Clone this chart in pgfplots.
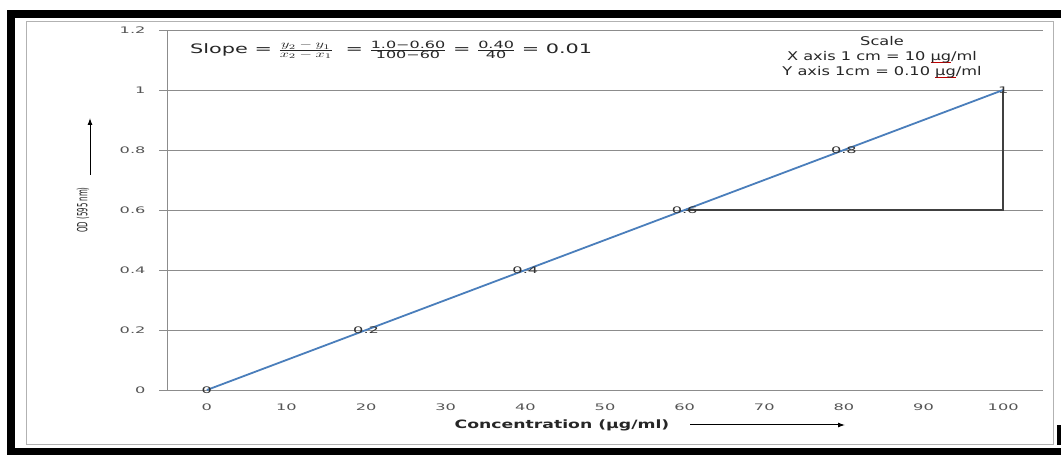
\documentclass[border=0pt]{standalone}
\usepackage{fontspec}
\setmainfont{DejaVu Sans}
\newfontfamily\tickfont[FakeStretch=1.8]{DejaVu Sans}
\newfontfamily\slopefont[FakeStretch=1.6]{DejaVu Sans}
\newfontfamily\scalefont[FakeStretch=1.35]{DejaVu Sans}
\newfontfamily\xlabfont[FakeStretch=1.5]{DejaVu Sans}
\newfontfamily\ylabfont[FakeStretch=0.5]{DejaVu Sans}
\usepackage{graphicx}
\usepackage{pgfplots}
\pgfplotsset{compat=1.18}
\usetikzlibrary{arrows.meta}
\definecolor{exblue}{RGB}{74,126,187}
\definecolor{txtgray}{RGB}{85,85,85}
\definecolor{gridgray}{RGB}{140,140,140}
\newcommand\ug{\leavevmode\setbox0\hbox{µg}\rlap{\textcolor{red!75!black}{\rule[-2.5pt]{\wd0}{0.7pt}}}\box0}
\newcommand\fr[2]{\ensuremath{\frac{\mbox{\fontsize{10}{11}\selectfont #1}}{\mbox{\fontsize{10}{11}\selectfont #2}}}}
\newcommand\mfr[2]{\ensuremath{\frac{\mbox{\scalebox{1.6}[1]{\fontsize{10}{11}\selectfont $#1$}}}{\mbox{\scalebox{1.6}[1]{\fontsize{10}{11}\selectfont $#2$}}}}}
\begin{document}
\begin{tikzpicture}[x=1pt,y=1pt]
\useasboundingbox[fill=white] (0,0) rectangle (1061,455);
\fill[black] (7,437) rectangle (1061,445);
\fill[black] (7,0) rectangle (15,445);
\fill[black] (7,0) rectangle (1061,7);
\fill[black] (1057,10) rectangle (1061,30);
\draw[gray!60, line width=1pt] (26,10) rectangle (1053,433);
\begin{axis}[
  at={(167pt,65pt)}, anchor=south west, scale only axis,
  width=876pt, height=360pt,
  xmin=-5, xmax=105, ymin=0, ymax=1.2,
  xtick={0,10,20,30,40,50,60,70,80,90,100},
  ytick={0,0.2,0.4,0.6,0.8,1,1.2},
  axis x line=bottom, axis y line=left,
  axis line style={-, draw=gridgray, line width=0.9pt},
  tick align=outside, major tick length=8pt,
  ytick style={draw=gridgray, line width=0.8pt},
  xtick style={draw=none},
  ymajorgrids, grid style={gridgray, line width=0.8pt},
  ticklabel style={font=\tickfont\fontsize{9}{10}\selectfont, text=txtgray},
  yticklabel style={xshift=-10pt},
  xticklabel style={yshift=-2pt},
  /pgf/number format/assume math mode=true,
  clip=false,
]
\addplot[black!75, line width=1.6pt] coordinates {(60,0.6) (100,0.6) (100,1)};
\addplot[exblue, line width=1.8pt, nodes near coords, point meta=explicit symbolic,
  every node near coord/.append style={anchor=center, font=\tickfont\fontsize{9}{10}\selectfont, text=black!80}]
  coordinates {(0,0)[0] (20,0.2)[0.2] (40,0.4)[0.4] (60,0.6)[0.6] (80,0.8)[0.8] (100,1)[1]};
\end{axis}
\node[rotate=90, font=\ylabfont\fontsize{14}{15}\selectfont, text=black!85] at (83,245) {OD (595 nm)};
\draw[-{Latex[length=7pt,width=5pt]}, line width=1pt] (90,280) -- (90,337);
\node[font=\xlabfont\bfseries\fontsize{11.5}{12}\selectfont, text=black!85] at (562,30) {Concentration (µg/ml)};
\draw[-{Latex[length=7pt,width=5pt]}, line width=1pt] (690,30) -- (845,30);
\node[anchor=west, font=\slopefont\fontsize{13}{15}\selectfont, text=black!85, inner sep=0pt] at (190,405)
  {Slope = \mfr{y_2-y_1}{x_2-x_1}\;\, = \fr{1.0−0.60}{100−60} = \fr{0.40}{40} = 0.01};
\node[align=center, font=\scalefont\fontsize{12}{15}\selectfont, text=black!85] at (882,398)
  {Scale\\X axis 1 cm = 10 \ug/ml\\Y axis 1cm = 0.10 \ug/ml};
\end{tikzpicture}
\end{document}
